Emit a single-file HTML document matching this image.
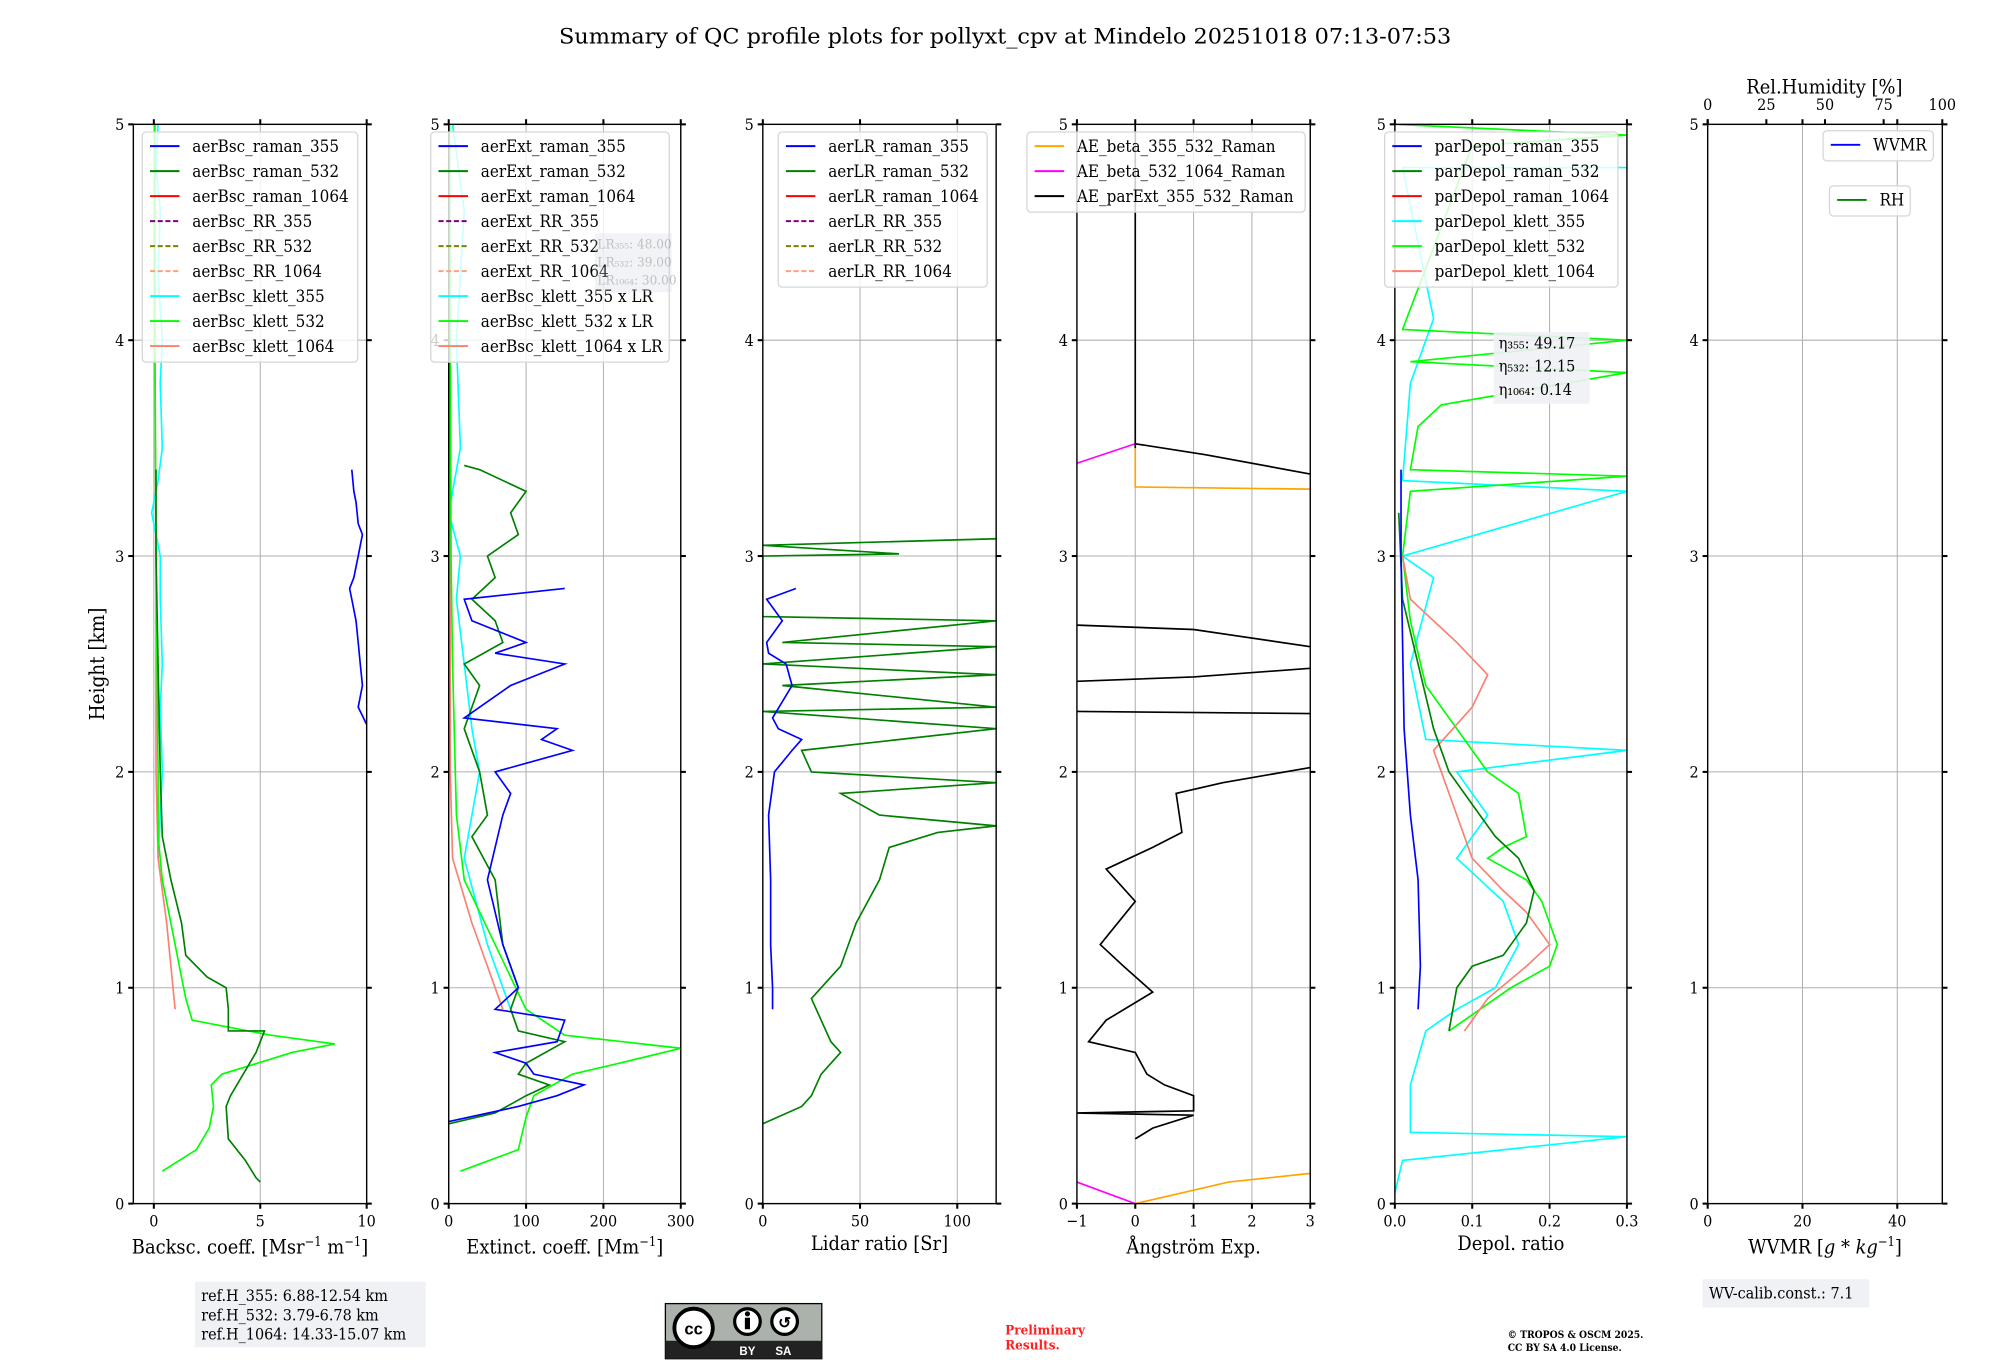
<!DOCTYPE html>
<html><head><meta charset="utf-8"><title>QC profile summary</title>
<style>
html,body{margin:0;padding:0;background:#fff;}
svg{display:block;font-family:"DejaVu Serif Condensed","DejaVu Serif","Liberation Serif",serif;}
</style></head>
<body>
<svg id="fig" width="2000" height="1360" viewBox="0 0 1560 1061" preserveAspectRatio="none" xmlns="http://www.w3.org/2000/svg">
<rect x="0" y="0" width="1560" height="1061" fill="#fff"/>
<text x="784" y="34" font-size="17" text-anchor="middle" textLength="696" lengthAdjust="spacingAndGlyphs">Summary of QC profile plots for pollyxt_cpv at Mindelo 20251018 07:13-07:53</text>
<text transform="translate(81,518) rotate(-90)" font-size="16" text-anchor="middle">Height [km]</text>
<g id="panels"></g>
<!-- footer -->
<rect x="152" y="1000" width="180" height="51" fill="#eff1f5"/>
<text x="157" y="1015" font-size="12.5">ref.H_355: 6.88-12.54 km</text>
<text x="157" y="1030" font-size="12.5">ref.H_532: 3.79-6.78 km</text>
<text x="157" y="1045" font-size="12.5">ref.H_1064: 14.33-15.07 km</text>
<g>
<rect x="519" y="1017" width="122" height="43" fill="#aab2ab" stroke="#000" stroke-width="1"/>
<rect x="519" y="1046" width="122" height="14" fill="#222"/>
<circle cx="541" cy="1036" r="15" fill="#fff" stroke="#000" stroke-width="3"/>
<text x="541" y="1041" font-size="13" font-weight="bold" text-anchor="middle" font-family="Liberation Sans,sans-serif">cc</text>
<circle cx="583" cy="1031" r="10" fill="#fff" stroke="#000" stroke-width="2.5"/>
<rect x="581" y="1028" width="4" height="9" fill="#000"/><circle cx="583" cy="1025" r="2" fill="#000"/>
<circle cx="612" cy="1031" r="10" fill="#fff" stroke="#000" stroke-width="2.5"/>
<text x="612" y="1036" font-size="12" font-weight="bold" text-anchor="middle" font-family="Liberation Sans,sans-serif">↺</text>
<text x="583" y="1057" font-size="9" fill="#fff" text-anchor="middle" font-family="Liberation Sans,sans-serif" font-weight="bold">BY</text>
<text x="611" y="1057" font-size="9" fill="#fff" text-anchor="middle" font-family="Liberation Sans,sans-serif" font-weight="bold">SA</text>
</g>
<text x="784" y="1041" font-size="10.5" font-weight="bold" fill="#ff2020">Preliminary</text>
<text x="784" y="1053" font-size="10.5" font-weight="bold" fill="#ff2020">Results.</text>
<text x="1176" y="1044" font-size="8" font-weight="bold">© TROPOS &amp; OSCM 2025.</text>
<text x="1176" y="1054" font-size="8" font-weight="bold">CC BY SA 4.0 License.</text>
<rect x="1328" y="998" width="130" height="22" fill="#eff1f5"/>
<text x="1333" y="1013" font-size="12.5">WV-calib.const.: 7.1</text>
</svg>
<script>
// ---- data (values in physical units, heights in km); NaN = gap ----
const heightTicks = [0,1,2,3,4,5];
const bscTicks = [0,5,10];
const extTicks = [0,100,200,300];
const lrTicks = [0,50,100];
const aeTicks = [-1,0,1,2,3];
const depTicks = [0.0,0.1,0.2,0.3];
const wvTicks = [0,20,40];
const rhTicks = [0,25,50,75,100];

const bscRaman355H = [2.22,2.3,2.4,2.5,2.6,2.7,2.8,2.85,2.9,3.0,3.1,3.15,3.25,3.3,3.4];
const bscRaman355V = [10,9.6,9.8,9.7,9.6,9.5,9.3,9.2,9.4,9.6,9.8,9.6,9.5,9.4,9.3];
const bscRaman532H = [0.1,0.12,0.2,0.3,0.45,0.5,0.6,0.7,0.8,0.8,0.9,1.0,1.05,1.15,1.3,1.5,1.7,2.0,2.5,3.0,3.4];
const bscRaman532V = [5,4.8,4.3,3.5,3.4,3.6,4.2,4.8,5.2,3.5,3.5,3.4,2.5,1.5,1.3,0.8,0.4,0.3,0.2,0.1,0.1];
const bscKlett532H = [0.15,0.25,0.35,0.45,0.55,0.6,0.7,0.74,0.78,0.85,0.95,1.1,1.3,1.5,1.7,2.0,3.0,4.0,5.0];
const bscKlett532V = [0.4,2.0,2.6,2.8,2.7,3.2,6.5,8.5,5.5,1.8,1.5,1.2,0.8,0.4,0.2,0.2,0.1,0.05,0.05];
const bscKlett355H = [1.6,1.8,2.0,2.3,2.5,2.8,3.0,3.1,3.2,3.35,3.5,3.8,4.0,4.3,4.6,4.8,5.0];
const bscKlett355V = [0.2,0.3,0.4,0.3,0.4,0.3,0.3,0.1,-0.1,0.2,0.4,0.3,0.4,0.2,0.3,0.1,0.2];
const bscKlett1064H = [0.9,1.1,1.3,1.6,2.0,3.0,4.0,5.0];
const bscKlett1064V = [1.0,0.8,0.6,0.2,0.1,0.1,0.05,0.05];

const extRaman355H = [0.38,0.45,0.5,0.55,0.6,0.65,0.7,0.75,0.85,0.9,1.0,1.2,1.5,1.8,1.9,2.0,2.1,2.15,2.2,2.25,2.4,2.5,2.55,2.6,2.7,2.8,2.85];
const extRaman355V = [0,90,140,175,110,100,60,140,150,60,90,70,50,70,80,60,160,120,140,20,80,150,60,100,30,20,150];
const extRaman532H = [0.37,0.42,0.5,0.55,0.6,0.65,0.75,0.8,0.9,1.0,1.2,1.5,1.7,1.8,2.0,2.2,2.4,2.5,2.6,2.7,2.8,2.9,3.0,3.1,3.2,3.3,3.4,3.42];
const extRaman532V = [0,60,100,130,90,100,150,90,80,90,70,60,30,50,40,20,40,20,70,60,30,60,50,90,80,100,40,20];
const extKlett532H = [0.15,0.25,0.4,0.5,0.6,0.65,0.72,0.78,0.9,1.2,1.5,1.8,2.5,3.0,4.0,5.0];
const extKlett532V = [15,90,100,110,160,220,300,150,100,60,20,10,5,3,2,1];
const extKlett355H = [0.9,1.2,1.6,2.0,2.2,2.5,2.8,3.0,3.2,3.5,4.0,4.3,4.6,5.0];
const extKlett355V = [80,50,20,40,30,20,10,15,0,15,10,15,20,5];
const extKlett1064H = [0.9,1.1,1.3,1.6,2.0,3.0,4.0];
const extKlett1064V = [70,50,30,5,2,2,1];

const lrRaman355H = [0.9,1.0,1.2,1.5,1.8,2.0,2.1,2.15,2.2,2.25,2.4,2.5,2.55,2.6,2.7,2.8,2.85];
const lrRaman355V = [5,5,4,4,3,6,15,20,8,5,15,12,3,2,10,2,17];
const lrRaman532H = [0.37,0.45,0.5,0.6,0.7,0.75,0.85,0.95,1.1,1.3,1.5,1.65,1.72,1.75,1.8,1.9,1.95,2.0,2.1,2.2,2.28,2.3,2.4,2.45,2.5,2.58,2.6,2.7,2.72,3.0,3.01,3.05,3.08];
const lrRaman532V = [0,20,25,30,40,35,30,25,40,48,60,65,90,120,60,40,120,25,20,120,0,120,10,120,0,120,10,120,0,0,70,0,120];

const aeBetaRamanA = [0,1.6,3.0,NaN,0,0,3.0];
const aeBetaRamanH = [0,0.1,0.14,NaN,3.5,3.32,3.31];
const aeBeta1064A = [-1,0,NaN,-1,0];
const aeBeta1064H = [0.1,0,NaN,3.43,3.52];
const aeParExtA = [0,0.3,1.0,-1,1.0,1.0,0.5,0.2,0,-0.8,-0.5,0.3,-0.2,-0.6,0,-0.5,0.3,0.8,0.7,1.5,3,NaN,-1,3,NaN,-1,1,3,NaN,-1,1,3,NaN,0,0,NaN,0,1.2,3];
const aeParExtH = [0.3,0.35,0.41,0.42,0.43,0.5,0.55,0.6,0.7,0.75,0.85,0.98,1.1,1.2,1.4,1.55,1.65,1.72,1.9,1.95,2.02,NaN,2.28,2.27,NaN,2.42,2.44,2.48,NaN,2.68,2.66,2.58,NaN,3.5,5,NaN,3.52,3.47,3.38];

const depRaman355H = [0.9,1.1,1.5,1.8,2.2,2.6,3.0,3.4];
const depRaman355V = [0.03,0.033,0.03,0.02,0.012,0.01,0.008,0.008];
const depRaman532H = [0.8,1.0,1.1,1.15,1.3,1.45,1.6,1.7,1.85,2.0,2.2,2.5,2.8,3.2];
const depRaman532V = [0.07,0.08,0.1,0.14,0.17,0.18,0.16,0.13,0.1,0.07,0.05,0.03,0.01,0.005];
const depKlett532H = [0.8,1.0,1.1,1.2,1.4,1.5,1.6,1.65,1.7,1.9,2.0,2.2,2.4,2.7,3.0,3.3,3.37,3.4,3.6,3.7,3.85,3.9,4.0,4.05,4.9,4.95,5.0];
const depKlett532V = [0.07,0.15,0.2,0.21,0.19,0.17,0.12,0.14,0.17,0.16,0.12,0.08,0.04,0.02,0.01,0.02,0.3,0.02,0.03,0.06,0.3,0.02,0.3,0.01,0.1,0.3,0];
const depKlett355H = [0.05,0.2,0.31,0.33,0.55,0.8,0.9,1.0,1.2,1.4,1.6,1.8,2.0,2.1,2.15,2.5,2.9,3.0,3.3,3.35,3.8,4.1,4.8,4.8];
const depKlett355V = [0,0.01,0.3,0.02,0.02,0.04,0.08,0.13,0.16,0.14,0.08,0.12,0.08,0.3,0.04,0.02,0.05,0.01,0.3,0.01,0.02,0.05,0.01,0.3];
const depKlett1064H = [0.8,0.95,1.1,1.2,1.35,1.45,1.6,1.8,2.1,2.3,2.45,2.6,2.8,3.0];
const depKlett1064V = [0.09,0.12,0.17,0.2,0.17,0.14,0.1,0.08,0.05,0.1,0.12,0.08,0.02,0.01];

// ---- drawing ----
const NS = "http://www.w3.org/2000/svg";
const root = document.getElementById('panels');
const Y0 = 939, Y1 = 97;
function yScale(h){ return Y0 + (Y1 - Y0) * h / 5; }
function mk(tag, attrs, parent){
  const e = document.createElementNS(NS, tag);
  for (const k in attrs) e.setAttribute(k, attrs[k]);
  (parent || root).appendChild(e);
  return e;
}
function makeX(x0, x1, v0, v1){ return v => x0 + (x1 - x0) * (v - v0) / (v1 - v0); }

function series(g, xs, vals, hts, color, name){
  let d = "", pen = false;
  for (let i = 0; i < vals.length; i++){
    if (isNaN(vals[i]) || isNaN(hts[i])) { pen = false; continue; }
    d += (pen ? "L" : "M") + xs(vals[i]).toFixed(1) + " " + yScale(hts[i]).toFixed(1);
    pen = true;
  }
  const p = mk('path', {d: d, fill: 'none', stroke: color, 'stroke-width': 1.3}, g);
  
  
}

function panel(name, x0, x1, xs, ticks, label, labelY, dec){
  dec = dec || 0;
  const g = mk('g', {});
  
  
  const clip = mk('clipPath', {id: 'clip-' + name}, g);
  mk('rect', {x: x0, y: Y1, width: x1 - x0, height: Y0 - Y1}, clip);
  const grid = mk('g', {stroke: '#b0b0b0', 'stroke-width': 0.8}, g);
  ticks.forEach(t => { const x = xs(t); if (x > x0 + 1 && x < x1 - 1) mk('line', {x1: x, x2: x, y1: Y1, y2: Y0}, grid); });
  heightTicks.forEach(h => { if (h > 0 && h < 5) mk('line', {x1: x0, x2: x1, y1: yScale(h), y2: yScale(h)}, grid); });
  const data = mk('g', {'clip-path': 'url(#clip-' + name + ')'}, g);
  mk('rect', {x: x0, y: Y1, width: x1 - x0, height: Y0 - Y1, fill: 'none', stroke: '#000', 'stroke-width': 1.1}, g);
  ticks.forEach(t => {
    const x = xs(t);
    mk('line', {x1: x, x2: x, y1: Y0, y2: Y0 + 4, stroke: '#000', 'stroke-width': 1.6}, g);
    mk('line', {x1: x, x2: x, y1: Y1, y2: Y1 - 4, stroke: '#000', 'stroke-width': 1.6}, g);
    const tl = mk('text', {x: x, y: 957, 'font-size': 12.5, 'text-anchor': 'middle'}, g);
    const s = Math.abs(t).toFixed(dec);
    tl.textContent = t < 0 ? '\u2212' + s : s;
  });
  heightTicks.forEach(h => {
    const y = yScale(h);
    mk('line', {x1: x0 - 4, x2: x0, y1: y, y2: y, stroke: '#000', 'stroke-width': 1.6}, g);
    mk('line', {x1: x1, x2: x1 + 4, y1: y, y2: y, stroke: '#000', 'stroke-width': 1.6}, g);
    const tl = mk('text', {x: x0 - 7, y: y + 4.5, 'font-size': 12.5, 'text-anchor': 'end'}, g);
    tl.textContent = String(h);
  });
  const xl = mk('text', {x: (x0 + x1) / 2, y: labelY || 978, 'font-size': 15.5, 'text-anchor': 'middle'}, g);
  
  
  xl.innerHTML = label;
  return {g: g, data: data};
}

function legend(g, x, y, w, entries, name){
  const lg = mk('g', {}, g);
  
  
  const h = entries.length * 19.5 + 4;
  mk('rect', {x: x, y: y, width: w, height: h, rx: 3, fill: 'rgba(255,255,255,0.8)', stroke: '#d6d6d6', 'stroke-width': 1}, lg);
  entries.forEach((e, i) => {
    const yy = y + 11 + i * 19.5;
    const ln = mk('line', {x1: x + 6, x2: x + 29, y1: yy, y2: yy, stroke: e[1], 'stroke-width': 1.5}, lg);
    if (e[2]) ln.setAttribute('stroke-dasharray', '4 2');
    const t = mk('text', {x: x + 39, y: yy + 4.5, 'font-size': 13.2}, lg);
    
    
    t.textContent = e[0];
  });
}
const C = {b: '#0000ff', g: '#008000', r: '#ff0000', p: '#800080', o: '#808000', s: '#ffa07a', c: '#00ffff', l: '#00ff00', k: '#fa8072'};

// Panel 1 backscatter
let xs = makeX(120, 286, 0, 10);
let P = panel('backscatter-panel', 104, 286, xs, bscTicks, 'Backsc. coeff. [Msr<tspan dy="-6" font-size="10">\u22121</tspan><tspan dy="6"> m</tspan><tspan dy="-6" font-size="10">\u22121</tspan><tspan dy="6">]</tspan>');
series(P.data, xs, bscKlett355V, bscKlett355H, C.c, 'bsc-klett-355');
series(P.data, xs, bscKlett1064V, bscKlett1064H, C.k, 'bsc-klett-1064');
series(P.data, xs, bscKlett532V, bscKlett532H, C.l, 'bsc-klett-532');
series(P.data, xs, bscRaman532V, bscRaman532H, C.g, 'bsc-raman-532');
series(P.data, xs, bscRaman355V, bscRaman355H, C.b, 'bsc-raman-355');
legend(P.g, 111, 103, 168, [['aerBsc_raman_355',C.b],['aerBsc_raman_532',C.g],['aerBsc_raman_1064',C.r],['aerBsc_RR_355',C.p,1],['aerBsc_RR_532',C.o,1],['aerBsc_RR_1064',C.s,1],['aerBsc_klett_355',C.c],['aerBsc_klett_532',C.l],['aerBsc_klett_1064',C.k]], 'backscatter-legend');

// Panel 2 extinction
xs = makeX(350, 531, 0, 300);
P = panel('extinction-panel', 350, 531, xs, extTicks, 'Extinct. coeff. [Mm<tspan dy="-6" font-size="10">\u22121</tspan><tspan dy="6">]</tspan>');
series(P.data, xs, extKlett355V, extKlett355H, C.c, 'ext-klett-355');
series(P.data, xs, extKlett1064V, extKlett1064H, C.k, 'ext-klett-1064');
series(P.data, xs, extKlett532V, extKlett532H, C.l, 'ext-klett-532');
series(P.data, xs, extRaman532V, extRaman532H, C.g, 'ext-raman-532');
series(P.data, xs, extRaman355V, extRaman355H, C.b, 'ext-raman-355');
legend(P.g, 336, 103, 186, [['aerExt_raman_355',C.b],['aerExt_raman_532',C.g],['aerExt_raman_1064',C.r],['aerExt_RR_355',C.p,1],['aerExt_RR_532',C.o,1],['aerExt_RR_1064',C.s,1],['aerBsc_klett_355 x LR',C.c],['aerBsc_klett_532 x LR',C.l],['aerBsc_klett_1064 x LR',C.k]], 'extinction-legend');
const lrBox = mk('g', {opacity: 0.25}, P.g);


mk('rect', {x: 464, y: 182, width: 60, height: 46, fill: '#c8d0e0'}, lrBox);
['LR\u2083\u2085\u2085: 48.00','LR\u2085\u2083\u2082: 39.00','LR\u2081\u2080\u2086\u2084: 30.00'].forEach((s, i) => { const t = mk('text', {x: 466, y: 194 + i * 14, 'font-size': 10.5}, lrBox); t.textContent = s; });

// Panel 3 lidar ratio
xs = makeX(595, 777, 0, 120);
P = panel('lidar-ratio-panel', 595, 777, xs, lrTicks, 'Lidar ratio [Sr]', 975);
series(P.data, xs, lrRaman532V, lrRaman532H, C.g, 'lr-raman-532');
series(P.data, xs, lrRaman355V, lrRaman355H, C.b, 'lr-raman-355');
legend(P.g, 607, 103, 163, [['aerLR_raman_355',C.b],['aerLR_raman_532',C.g],['aerLR_raman_1064',C.r],['aerLR_RR_355',C.p,1],['aerLR_RR_532',C.o,1],['aerLR_RR_1064',C.s,1]], 'lidar-ratio-legend');

// Panel 4 Angstrom
xs = makeX(840, 1022, -1, 3);
P = panel('angstrom-panel', 840, 1022, xs, aeTicks, '\u00C5ngstr\u00F6m Exp.');
series(P.data, xs, aeBetaRamanA, aeBetaRamanH, '#ffa500', 'ae-beta-355-532');
series(P.data, xs, aeBeta1064A, aeBeta1064H, '#ff00ff', 'ae-beta-532-1064');
series(P.data, xs, aeParExtA, aeParExtH, '#000000', 'ae-parext-355-532');
legend(P.g, 801, 103, 217, [['AE_beta_355_532_Raman','#ffa500'],['AE_beta_532_1064_Raman','#ff00ff'],['AE_parExt_355_532_Raman','#000000']], 'angstrom-legend');

// Panel 5 depol
xs = makeX(1088, 1269, 0, 0.3);
P = panel('depol-panel', 1088, 1269, xs, depTicks, 'Depol. ratio', 975, 1);
series(P.data, xs, depKlett355V, depKlett355H, C.c, 'dep-klett-355');
series(P.data, xs, depKlett532V, depKlett532H, C.l, 'dep-klett-532');
series(P.data, xs, depKlett1064V, depKlett1064H, C.k, 'dep-klett-1064');
series(P.data, xs, depRaman532V, depRaman532H, C.g, 'dep-raman-532');
series(P.data, xs, depRaman355V, depRaman355H, C.b, 'dep-raman-355');
legend(P.g, 1080, 103, 182, [['parDepol_raman_355',C.b],['parDepol_raman_532',C.g],['parDepol_raman_1064',C.r],['parDepol_klett_355',C.c],['parDepol_klett_532',C.l],['parDepol_klett_1064',C.k]], 'depol-legend');
const eta = mk('g', {}, P.g);


mk('rect', {x: 1165, y: 259, width: 75, height: 56, fill: 'rgba(239,241,245,0.9)'}, eta);
['\u03B7\u2083\u2085\u2085: 49.17','\u03B7\u2085\u2083\u2082: 12.15','\u03B7\u2081\u2080\u2086\u2084: 0.14'].forEach((s, i) => { const t = mk('text', {x: 1169, y: 272 + i * 18, 'font-size': 12.5}, eta); t.textContent = s; });

// Panel 6 WVMR / RH
xs = makeX(1332, 1515, 0, 49.5);
P = panel('wvmr-panel', 1332, 1515, xs, wvTicks, 'WVMR [<tspan font-style="italic">g * kg</tspan><tspan dy="-6" font-size="10">\u22121</tspan><tspan dy="6">]</tspan>');
const rx = makeX(1332, 1515, 0, 100);
rhTicks.forEach(t => {
  const x = rx(t);
  mk('line', {x1: x, x2: x, y1: Y1, y2: Y1 - 4, stroke: '#000', 'stroke-width': 1.6}, P.g);
  const tl = mk('text', {x: x, y: 86, 'font-size': 12.5, 'text-anchor': 'middle'}, P.g);
  tl.textContent = String(t);
});
const rhl = mk('text', {x: 1423, y: 73, 'font-size': 15.5, 'text-anchor': 'middle'}, P.g);


rhl.textContent = 'Rel.Humidity [%]';
legend(P.g, 1422, 102, 86, [['WVMR', C.b]], 'wvmr-legend');
legend(P.g, 1427, 145, 63, [['RH', C.g]], 'rh-legend');
</script>
</body></html>
